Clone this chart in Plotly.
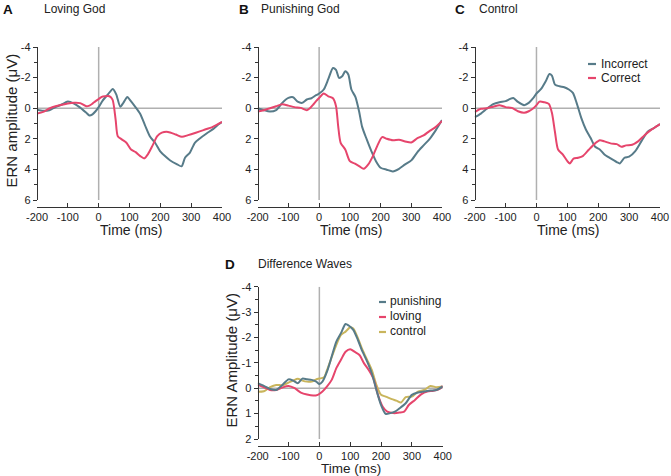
import plotly.graph_objects as go

W, H = 671, 476
FONT = "Liberation Sans, Arial, sans-serif"
BLUE = "#577b89"
RED = "#e6456c"
YEL = "#c9b55c"
GRAY = "#b0b0b0"
AXC = "#333333"

# ---------------- data ----------------
# Panel A: Loving God
a_inc_t = [-200, -180, -160, -140, -120, -100, -80, -60, -40, -30, -20, -10, 0, 13, 30, 46, 57, 70, 80, 93, 100, 117, 134, 150, 167, 183, 199, 215, 231, 253, 269, 280, 296, 312, 329, 350, 372, 388, 400]
a_inc_v = [0.1, 0.17, 0.13, -0.07, -0.24, -0.43, -0.3, -0.04, 0.3, 0.48, 0.4, 0.2, -0.07, -0.5, -0.9, -1.26, -0.9, -0.1, -0.35, -0.74, -0.57, -0.13, 0.35, 1.1, 1.87, 2.26, 2.8, 3.13, 3.4, 3.65, 3.8, 3.24, 2.9, 2.26, 1.96, 1.65, 1.35, 1.07, 0.9]
a_cor_t = [-200, -180, -160, -140, -120, -100, -80, -60, -40, -30, -20, -10, 0, 10, 20, 35, 45, 55, 62, 75, 90, 105, 120, 135, 148, 160, 175, 190, 205, 225, 250, 270, 290, 315, 340, 370, 400]
a_cor_v = [0.35, 0.24, 0.02, -0.13, -0.22, -0.3, -0.35, -0.33, -0.13, -0.17, -0.3, -0.46, -0.6, -0.74, -0.78, -0.78, -0.56, 0.74, 1.83, 2.04, 2.26, 2.7, 2.87, 3.13, 3.28, 3.0, 2.43, 1.83, 1.6, 1.55, 1.72, 1.87, 1.76, 1.6, 1.43, 1.22, 0.9]

# Panel B: Punishing God
b_inc_t = [-200, -180, -160, -140, -120, -100, -85, -70, -55, -40, -25, -10, 0, 15, 30, 45, 55, 65, 75, 85, 95, 105, 118, 130, 140, 155, 170, 185, 200, 220, 240, 260, 280, 300, 320, 340, 360, 380, 400]
b_inc_v = [0.0, 0.13, 0.22, 0.13, -0.35, -0.67, -0.72, -0.43, -0.35, -0.57, -0.65, -0.85, -0.96, -1.22, -1.91, -2.63, -2.5, -1.98, -2.09, -2.41, -2.2, -1.22, -0.74, 0.2, 1.22, 2.04, 2.8, 3.46, 3.89, 4.02, 4.13, 3.96, 3.67, 3.41, 2.87, 2.43, 2.0, 1.43, 0.78]
b_cor_t = [-200, -180, -160, -140, -120, -100, -80, -60, -40, -30, -20, -10, 0, 15, 30, 45, 55, 62, 70, 85, 100, 115, 130, 145, 160, 175, 190, 205, 220, 240, 260, 280, 300, 320, 340, 360, 380, 400]
b_cor_v = [0.22, 0.13, 0.0, -0.13, -0.26, -0.17, -0.07, -0.02, 0.13, 0.0, -0.22, -0.46, -0.67, -0.96, -0.78, -0.65, -0.13, 1.17, 2.26, 2.7, 3.46, 3.61, 3.78, 3.96, 3.67, 3.13, 2.43, 1.89, 2.0, 2.1, 2.07, 2.17, 2.24, 1.96, 1.78, 1.48, 1.22, 0.83]

# Panel C: Control
c_inc_t = [-200, -180, -160, -140, -120, -100, -85, -75, -60, -40, -25, -10, 0, 15, 30, 42, 50, 60, 75, 90, 105, 118, 130, 145, 160, 175, 190, 205, 220, 240, 260, 270, 285, 300, 320, 340, 360, 380, 400]
c_inc_v = [0.59, 0.35, 0.02, -0.26, -0.39, -0.46, -0.61, -0.67, -0.41, -0.2, -0.35, -0.67, -0.96, -1.26, -1.76, -2.24, -2.13, -1.54, -1.43, -1.37, -1.22, -1.0, -0.35, 0.63, 1.39, 1.93, 2.52, 2.7, 3.02, 3.28, 3.52, 3.61, 3.24, 3.17, 2.8, 2.15, 1.54, 1.3, 1.04]
c_cor_t = [-200, -180, -160, -140, -120, -100, -80, -60, -40, -25, -10, 0, 10, 25, 40, 50, 60, 70, 85, 100, 108, 120, 135, 150, 170, 190, 205, 220, 240, 260, 275, 290, 310, 330, 350, 370, 390, 400]
c_cor_v = [0.26, 0.04, 0.0, -0.1, -0.2, -0.07, -0.02, 0.2, 0.3, 0.2, 0.0, -0.2, -0.43, -0.39, -0.28, 0.3, 1.57, 2.7, 3.02, 3.46, 3.61, 3.3, 3.24, 3.13, 2.7, 2.3, 2.09, 2.17, 2.3, 2.35, 2.52, 2.43, 2.39, 2.15, 1.76, 1.43, 1.17, 1.04]

# Panel D: Difference waves
d_pun_t = [-200, -180, -160, -140, -120, -100, -85, -70, -55, -40, -25, -10, 0, 10, 25, 40, 55, 70, 85, 95, 110, 125, 140, 155, 170, 185, 200, 215, 230, 245, 260, 280, 300, 320, 340, 360, 380, 400]
d_pun_v = [-0.2, -0.09, 0.03, 0.07, -0.13, -0.35, -0.3, -0.2, -0.38, -0.35, -0.33, -0.26, -0.17, -0.26, -0.66, -1.25, -1.84, -2.17, -2.53, -2.47, -2.3, -1.9, -1.44, -1.05, -0.59, 0.07, 0.66, 1.01, 0.98, 0.92, 0.79, 0.59, 0.26, 0.17, 0.13, 0.09, 0.07, -0.07]
d_lov_t = [-200, -180, -160, -140, -120, -100, -80, -60, -40, -20, -5, 10, 25, 40, 55, 70, 85, 100, 115, 130, 145, 160, 175, 190, 205, 220, 240, 260, 275, 290, 310, 330, 350, 370, 390, 400]
d_lov_v = [-0.13, -0.04, 0.07, 0.07, -0.03, -0.09, 0.0, 0.17, 0.25, 0.29, 0.26, 0.13, -0.07, -0.33, -0.79, -1.12, -1.44, -1.54, -1.43, -1.31, -0.98, -0.72, -0.39, 0.26, 0.72, 0.92, 0.98, 0.96, 0.92, 0.66, 0.46, 0.24, 0.13, 0.1, 0.03, -0.09]
d_con_t = [-200, -180, -160, -140, -120, -100, -85, -70, -55, -40, -25, -10, 0, 15, 25, 40, 55, 70, 85, 100, 110, 125, 140, 155, 170, 185, 200, 215, 235, 250, 265, 280, 300, 320, 340, 360, 380, 400]
d_con_v = [0.14, 0.12, -0.04, -0.13, -0.12, -0.22, -0.3, -0.37, -0.3, -0.26, -0.26, -0.35, -0.38, -0.43, -0.72, -1.22, -1.71, -2.1, -2.23, -2.4, -2.35, -1.97, -1.51, -1.12, -0.72, -0.13, 0.26, 0.33, 0.43, 0.49, 0.56, 0.35, 0.33, 0.13, 0.07, -0.09, -0.04, -0.07]

x_ticks = [-200, -100, 0, 100, 200, 300, 400]
x_ticktext = ["-200", "-100", "0", "100", "200", "300", "400"]
y_ticks_abc = [-4, -2, 0, 2, 4, 6]
y_ticktext_abc = ["-4", "-2", "0", "2", "4", "6"]
y_ticks_d = [-4, -3, -2, -1, 0, 1, 2]
y_ticktext_d = ["-4", "-3", "-2", "-1", "0", "1", "2"]

panel_letters = ["A", "B", "C", "D"]
panel_titles = ["Loving God", "Punishing God", "Control", "Difference Waves"]
legend_c = ["Incorrect", "Correct"]
legend_d = ["punishing", "loving", "control"]

# ---------------- layout helpers ----------------
def px_x(p):
    return p / W

def px_y(p):
    return 1 - p / H

panels = [
    # (x0px, x1px, ytop px, ybot px, xaxis line px, yrange)
    (37, 222, 47, 200, 207, [6, -4]),
    (257.7, 442, 47, 200, 207, [6, -4]),
    (474.7, 660, 47, 200, 207, [6, -4]),
    (257.7, 442.7, 286.7, 439, 445.7, [2, -4]),
]

fig = go.Figure()

series = [
    [(a_inc_t, a_inc_v, BLUE), (a_cor_t, a_cor_v, RED)],
    [(b_inc_t, b_inc_v, BLUE), (b_cor_t, b_cor_v, RED)],
    [(c_inc_t, c_inc_v, BLUE), (c_cor_t, c_cor_v, RED)],
    [(d_con_t, d_con_v, YEL), (d_lov_t, d_lov_v, RED), (d_pun_t, d_pun_v, BLUE)],
]

layout = dict(
    width=W, height=H, margin=dict(l=0, r=0, t=0, b=0, autoexpand=False),
    paper_bgcolor="white", plot_bgcolor="white", showlegend=False,
    font=dict(family=FONT, color="#222222"),
)
shapes = []
annotations = []

for i, (x0, x1, yt, yb, xl, yr) in enumerate(panels):
    n = i + 1
    xa = "xaxis" if n == 1 else f"xaxis{n}"
    ya = "yaxis" if n == 1 else f"yaxis{n}"
    xr = "x" if n == 1 else f"x{n}"
    yrf = "y" if n == 1 else f"y{n}"
    layout[xa] = dict(
        domain=[px_x(x0), px_x(x1)], range=[-200, 400], anchor="free",
        position=px_y(xl), showline=True, linecolor=AXC, linewidth=1.3,
        ticks="inside", ticklen=4, tickcolor=AXC, tickwidth=1.2,
        tickvals=x_ticks, ticktext=x_ticktext, showgrid=False, zeroline=False,
        automargin=False,
        tickfont=dict(size=11, family=FONT, color="#222222"),
    )
    if i < 3:
        yt_vals, yt_text, mdt = y_ticks_abc, y_ticktext_abc, 1
    else:
        yt_vals, yt_text, mdt = y_ticks_d, y_ticktext_d, 0.5
    layout[ya] = dict(
        domain=[px_y(yb), px_y(yt)], range=yr, anchor="free",
        position=px_x(x0), showline=True, linecolor=AXC, linewidth=1.3,
        ticks="outside", ticklen=4, tickcolor=AXC, tickwidth=1.2,
        tickvals=yt_vals, ticktext=yt_text, showgrid=False, zeroline=False,
        automargin=False,
        minor=dict(ticks="outside", ticklen=2.5, dtick=mdt, tick0=0, tickcolor=AXC, tickwidth=1, showgrid=False),
        tickfont=dict(size=11, family=FONT, color="#222222"),
    )
    # reference lines
    shapes.append(dict(type="line", xref=xr, yref=yrf, x0=-200, x1=400, y0=0, y1=0,
                       line=dict(color=GRAY, width=1.5), layer="below"))
    shapes.append(dict(type="line", xref=xr, yref=yrf, x0=0, x1=0, y0=yr[0], y1=yr[1],
                       line=dict(color=GRAY, width=1.5), layer="below"))
    for t, v, c in series[i]:
        fig.add_trace(go.Scatter(x=t, y=v, mode="lines", xaxis=xr, yaxis=yrf,
                                 line=dict(color=c, width=2, shape="spline", smoothing=0.7),
                                 cliponaxis=False, hoverinfo="skip"))
    # x title
    annotations.append(dict(text="Time (ms)", xref="paper", yref="paper",
                            x=px_x((x0 + x1) / 2 + 1), y=px_y(230 if i < 3 else 468.5),
                            xanchor="center", yanchor="middle", showarrow=False,
                            font=dict(size=14 if i < 3 else 13.5, family=FONT, color="#222222")))

# y titles
annotations.append(dict(text="ERN amplitude (\u03bcV)", xref="paper", yref="paper",
                        x=px_x(10.5), y=px_y(121), textangle=-90, showarrow=False,
                        xanchor="center", yanchor="middle",
                        font=dict(size=15, family=FONT, color="#222222")))
annotations.append(dict(text="ERN Amplitude (\u03bcV)", xref="paper", yref="paper",
                        x=px_x(230.5), y=px_y(360), textangle=-90, showarrow=False,
                        xanchor="center", yanchor="middle",
                        font=dict(size=15, family=FONT, color="#222222")))

# panel letters and titles
letter_pos = [(1, 9), (236.5, 9), (452.5, 9), (223, 264)]
title_pos = [(42, 9), (259, 9), (477, 9), (256, 264)]
for k in range(4):
    annotations.append(dict(text="<b>%s</b>" % panel_letters[k], xref="paper", yref="paper",
                            x=px_x(letter_pos[k][0]), y=px_y(letter_pos[k][1]),
                            xanchor="left", yanchor="middle", showarrow=False,
                            font=dict(size=13.5, family=FONT, color="#111111")))
    annotations.append(dict(text=panel_titles[k], xref="paper", yref="paper",
                            x=px_x(title_pos[k][0]), y=px_y(title_pos[k][1]),
                            xanchor="left", yanchor="middle", showarrow=False,
                            font=dict(size=12, family=FONT, color="#222222")))

# custom legends
leg_c_rows = [(legend_c[0], BLUE, 64), (legend_c[1], RED, 78)]
for name, col, yy in leg_c_rows:
    shapes.append(dict(type="line", xref="paper", yref="paper", x0=px_x(588), x1=px_x(596),
                       y0=px_y(yy), y1=px_y(yy), line=dict(color=col, width=2.2)))
    annotations.append(dict(text=name, xref="paper", yref="paper", x=px_x(599), y=px_y(yy),
                            xanchor="left", yanchor="middle", showarrow=False,
                            font=dict(size=12, family=FONT, color="#222222")))
leg_d_rows = [(legend_d[0], BLUE, 302), (legend_d[1], RED, 317), (legend_d[2], YEL, 332)]
for name, col, yy in leg_d_rows:
    shapes.append(dict(type="line", xref="paper", yref="paper", x0=px_x(379), x1=px_x(386),
                       y0=px_y(yy), y1=px_y(yy), line=dict(color=col, width=2.2)))
    annotations.append(dict(text=name, xref="paper", yref="paper", x=px_x(388), y=px_y(yy - 1),
                            xanchor="left", yanchor="middle", showarrow=False,
                            font=dict(size=12, family=FONT, color="#222222")))

layout["shapes"] = shapes
layout["annotations"] = annotations
fig.update_layout(**layout)
fig.write_html("out.html", config={"displayModeBar": False},
               post_script="document.body.style.margin='0';document.body.style.padding='0';")
